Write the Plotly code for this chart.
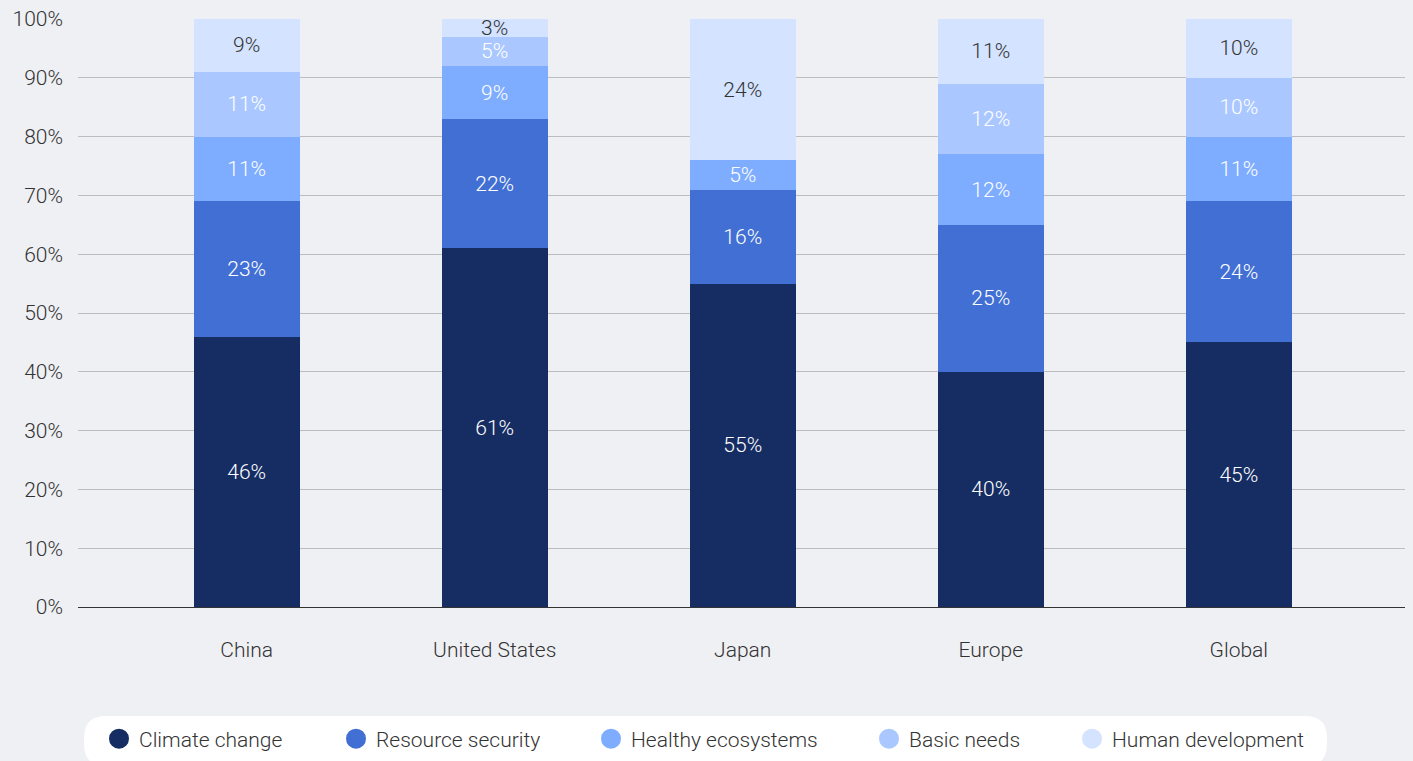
import plotly.graph_objects as go

regions = ["China", "United States", "Japan", "Europe", "Global"]
series_names = ["Climate change", "Resource security", "Healthy ecosystems", "Basic needs", "Human development"]
climate_change = [46, 61, 55, 40, 45]
resource_security = [23, 22, 16, 25, 24]
healthy_ecosystems = [11, 9, 5, 12, 11]
basic_needs = [11, 5, 0, 12, 10]
human_development = [9, 3, 24, 11, 10]
y_ticks = [0, 10, 20, 30, 40, 50, 60, 70, 80, 90, 100]

series_values = [climate_change, resource_security, healthy_ecosystems, basic_needs, human_development]
colors = ["#162d64", "#416fd4", "#7eadff", "#aac8ff", "#d4e3ff"]
text_colors = ["#ffffff", "#ffffff", "#ffffff", "#ffffff", "#333333"]

W, H = 1413, 761
ML, MR, MT, MB = 78, 8, 19, 154
PW, PH = W - ML - MR, H - MT - MB
FONT = "Roboto, Helvetica Neue, Liberation Sans, Arial, sans-serif"
FW = 300
FS = 21


def px_x(p):
    return (p - ML) / PW


def px_y(p):
    return (H - MB - p) / PH


fig = go.Figure()
for i, (name, vals) in enumerate(zip(series_names, series_values)):
    fig.add_trace(go.Bar(
        x=regions, y=vals, name=name,
        marker=dict(color=colors[i], line=dict(width=0)),
        text=[f"{v}%" if v > 0 else "" for v in vals],
        textposition="inside", insidetextanchor="middle", textangle=0,
        textfont=dict(color=text_colors[i], size=FS, family=FONT, weight=FW),
        showlegend=False, hoverinfo="skip",
    ))

# legend entries (circle markers), one legend per entry
legend_left_px = [99, 336, 591, 869, 1072]
for i, name in enumerate(series_names):
    lg = "legend" if i == 0 else f"legend{i+1}"
    fig.add_trace(go.Scatter(
        x=[None], y=[None], mode="markers", name=name,
        marker=dict(color=colors[i], size=16, symbol="circle",
                    line=dict(color=colors[i], width=4)),
        legend=lg, showlegend=True,
    ))

legend_common = dict(
    orientation="h", xanchor="left", yanchor="middle",
    yref="container", y=(H - 739) / H, bgcolor="rgba(0,0,0,0)",
    font=dict(family=FONT, size=FS, color="#333333", weight=FW),
)
layout_legends = {}
for i in range(5):
    key = "legend" if i == 0 else f"legend{i+1}"
    layout_legends[key] = dict(legend_common, x=px_x(legend_left_px[i]))

# white rounded pill behind legend
x0, x1, y0, y1, r = 84, 1327, 716, 766, 22
X0, X1 = px_x(x0), px_x(x1)
Y0, Y1 = px_y(y0), px_y(y1)
rx, ry = r / PW, r / PH
path = (f"M {X0+rx},{Y0} L {X1-rx},{Y0} Q {X1},{Y0} {X1},{Y0-ry} "
        f"L {X1},{Y1+ry} Q {X1},{Y1} {X1-rx},{Y1} L {X0+rx},{Y1} "
        f"Q {X0},{Y1} {X0},{Y1+ry} L {X0},{Y0-ry} Q {X0},{Y0} {X0+rx},{Y0} Z")

fig.update_layout(
    width=W, height=H,
    margin=dict(l=ML, r=MR, t=MT, b=MB),
    barmode="stack",
    bargap=0.573,
    paper_bgcolor="#eff0f4", plot_bgcolor="#eff0f4",
    font=dict(family=FONT, size=FS, color="#333333", weight=FW),
    uniformtext=dict(minsize=FS, mode="show"),
    shapes=[dict(type="path", path=path, xref="paper", yref="paper",
                 fillcolor="#ffffff", line=dict(width=0), layer="below")],
    xaxis=dict(
        range=[-0.68, 4.67], showgrid=False, ticks="", showline=False,
        zeroline=False, ticklabelstandoff=28,
        tickfont=dict(family=FONT, size=FS, color="#333333", weight=FW),
    ),
    yaxis=dict(
        range=[0, 100], tickvals=y_ticks, ticktext=[f"{v}%" for v in y_ticks],
        showgrid=True, gridcolor="#bdbdbd", gridwidth=1,
        zeroline=True, zerolinecolor="#333333", zerolinewidth=1,
        ticks="", ticklabelstandoff=14, showline=False,
        tickfont=dict(family=FONT, size=FS, color="#333333", weight=FW),
    ),
    **layout_legends,
)

fig.write_html(
    "out.html",
    config={"displayModeBar": False},
    post_script="document.body.style.margin='0';document.body.style.background='#eff0f4';",
)
